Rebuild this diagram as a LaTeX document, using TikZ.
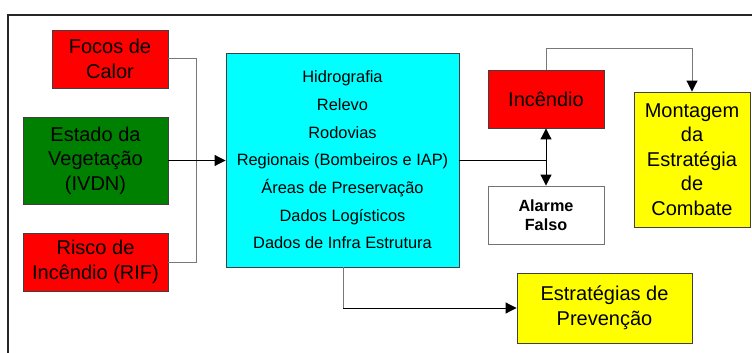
\documentclass[tikz,border=0pt]{standalone}
\usepackage{fontspec}
\setmainfont{Liberation Sans}
\usetikzlibrary{arrows.meta}
\definecolor{boxred}{RGB}{255,0,0}
\definecolor{boxgreen}{RGB}{0,128,0}
\definecolor{boxcyan}{RGB}{0,255,255}
\definecolor{boxyellow}{RGB}{255,255,0}
\definecolor{edgegray}{RGB}{120,120,120}
\tikzset{
  bx/.style={draw=black!75, line width=0.9pt, rectangle, inner sep=0pt, align=center,
    font=\fontsize{20}{24.5}\selectfont},
  conn/.style={draw=edgegray, line width=1pt},
  arr/.style={draw=black, line width=1pt, -{Triangle[length=11pt,width=11pt]}},
  garr/.style={draw=edgegray, line width=1pt, -{Triangle[length=11pt,width=11pt,black]}},
  darr/.style={draw=black, line width=1pt, {Triangle[length=11pt,width=11pt]}-{Triangle[length=11pt,width=11pt]}},
}
\begin{document}
\begin{tikzpicture}[x=1pt,y=-1pt]
\useasboundingbox (0,0) rectangle (752,353);
% outer frame (cropped)
\draw[black!85, line width=1.4pt] (8,353) -- (8,15) -- (752,15);
% nodes
\node[bx, fill=boxred, minimum width=116pt, minimum height=58pt] (focos) at (110,59) {Focos de\\Calor};
\node[bx, fill=boxgreen, minimum width=145pt, minimum height=87pt] (estado) at (95.5,160.5) {Estado da\\Vegeta\c{c}\~ao\\(IVDN)};
\node[bx, fill=boxred, minimum width=145pt, minimum height=58pt] (risco) at (95.5,262) {Risco de\\Inc\^endio (RIF)};
\node[bx, fill=boxcyan, minimum width=233pt, minimum height=214pt, font=\fontsize{16.4}{27.7}\selectfont] (dados) at (342.5,160)
  {Hidrografia\\Relevo\\Rodovias\\Regionais (Bombeiros e IAP)\\\'Areas de Preserva\c{c}\~ao\\Dados Log\'isticos\\Dados de Infra Estrutura};
\node[bx, fill=white, draw=black!55, minimum width=116pt, minimum height=58pt, font=\bfseries\fontsize{16.2}{19.5}\selectfont] (alarme) at (546,215) {Alarme\\Falso};
\node[bx, fill=boxred, minimum width=116pt, minimum height=58pt] (incendio) at (546,99) {Inc\^endio};
\node[bx, fill=boxyellow, minimum width=116pt, minimum height=135pt] (montagem) at (692,159.5) {Montagem\\da\\Estrat\'egia\\de\\Combate};
\node[bx, fill=boxyellow, minimum width=175pt, minimum height=70pt] (prevencao) at (604.5,308) {Estrat\'egias de\\Preven\c{c}\~ao};
% junction coordinates
\coordinate (jx) at (196,0);
\coordinate (j1) at (incendio.south |- dados.east);
\coordinate (jtop) at (546,49);
\coordinate (jbot) at (343,308);
% connectors
\draw[conn] (focos.east) -- (focos.east -| jx) -- (risco.east -| jx) -- (risco.east);
\draw[arr] (estado.east) -- (estado.east -| dados.west);
\draw[line width=1pt] (dados.east |- j1) -- (j1);
\draw[darr] (incendio.south) -- (alarme.north);
\draw[garr] (incendio.north) -- (jtop) -- (jtop -| montagem.north) -- (montagem.north);
\draw[conn] (jbot |- dados.south) -- (jbot);
\draw[arr] (jbot) -- (prevencao.west);
\end{tikzpicture}
\end{document}
